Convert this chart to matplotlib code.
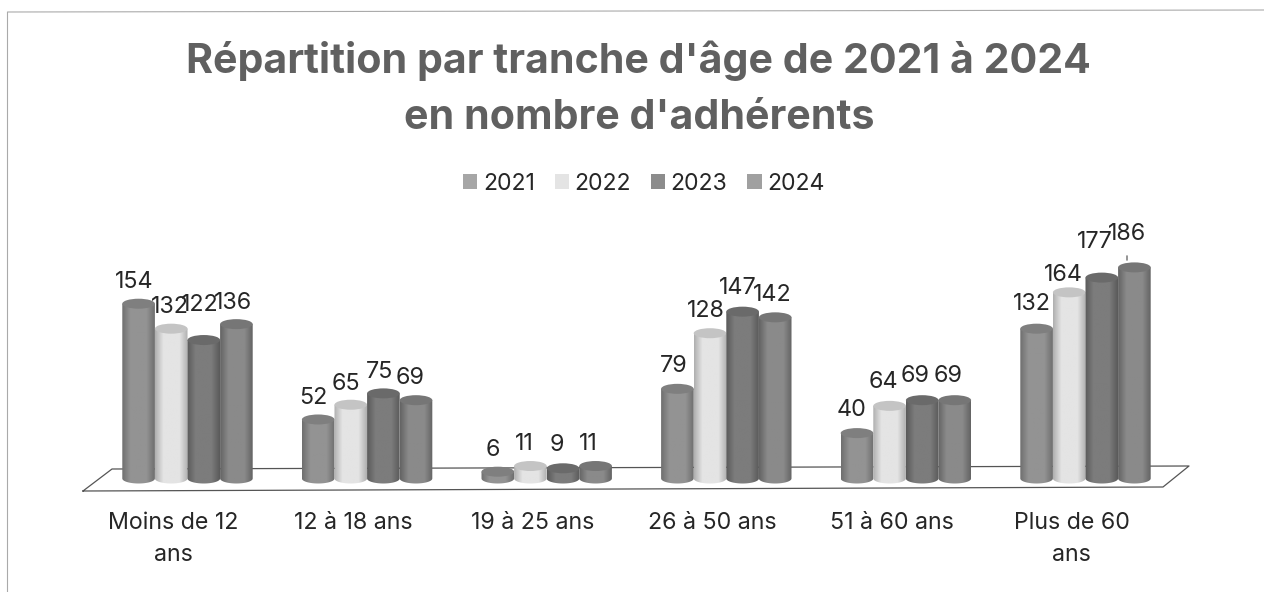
import numpy as np
import matplotlib
matplotlib.use('Agg')
import matplotlib.pyplot as plt
from matplotlib.colors import LinearSegmentedColormap
from matplotlib.patches import Ellipse, Patch, PathPatch
from matplotlib.path import Path
from matplotlib.transforms import IdentityTransform

plt.rcParams['font.family'] = ['Inter', 'DejaVu Sans']

categories = ['Moins de 12\nans', '12 à 18 ans', '19 à 25 ans', '26 à 50 ans', '51 à 60 ans', 'Plus de 60\nans']
years = ['2021', '2022', '2023', '2024']
v2021 = [154, 52, 6, 79, 40, 132]
v2022 = [132, 65, 11, 128, 64, 164]
v2023 = [122, 75, 9, 147, 69, 177]
v2024 = [136, 69, 11, 142, 69, 186]
series = [v2021, v2022, v2023, v2024]

# grey levels of the scan: edge, middle, top cap
shades = [('#6f6f6f', '#939393', '#7f7f7f'),
          ('#b0b0b0', '#e4e4e4', '#c4c4c4'),
          ('#5a5a5a', '#7c7c7c', '#6a6a6a'),
          ('#646464', '#8a8a8a', '#767676')]
legend_colors = ['#a6a6a6', '#e4e4e4', '#8c8c8c', '#a0a0a0']
text_color = '#262626'

# label shift in pixels from the top of each bar
label_dx = [[-4, -1.5, -4.5, -3], [-4.5, -5, -4, -6], [-5, -6, -6, -7],
            [-4, -4, -5, -3], [-5, -6, -7, -7], [-5, -6, -7, -7]]
label_dy = [[21.7, 21.7, 35, 21.1], [21.5, 21.2, 21.4, 22.2], [21.7, 22, 23.3, 22],
            [22.8, 22.2, 23.7, 22.3], [23.1, 23.9, 24.2, 24.2], [24.7, 17.4, 35.6, 33.4]]

W, H = 1264, 592
px_per_cat = 179.6
px_per_val = 1.135
left = 173.5 - px_per_cat / 2
base = 478.5
fig = plt.figure(figsize=(W / 100, H / 100), dpi=100, facecolor='white')
ax = fig.add_axes([left / W, (H - base - 34) / H, 6 * px_per_cat / W, (34 + 220 * px_per_val) / H])


def py(y):
    return H - y


bar_w = 32.6 / px_per_cat
cap_h = 10.0 / px_per_val
group_shift = 14.0 / px_per_cat
theta = np.linspace(0, np.pi, 40)

for i in range(len(categories)):
    for j in range(len(years)):
        v = series[j][i]
        xc = i + group_shift + (j - 1.5) * bar_w
        edge, mid, cap = shades[j]
        cmap = LinearSegmentedColormap.from_list('cyl', [edge, mid, mid, mid, edge])
        grad = np.linspace(0, 1, 64).reshape(1, -1)
        im = ax.imshow(grad, cmap=cmap, extent=(xc - bar_w / 2, xc + bar_w / 2, -cap_h, v),
                       aspect='auto', zorder=3 + j * 0.1, interpolation='bilinear')
        xs = np.concatenate([xc - bar_w / 2 * np.cos(theta), [xc + bar_w / 2, xc - bar_w / 2]])
        ys = np.concatenate([-cap_h / 2 * np.sin(theta), [v, v]])
        body = Path(np.column_stack([xs, ys]))
        im.set_clip_path(PathPatch(body, transform=ax.transData))
        top = Ellipse((xc, v), bar_w, cap_h, facecolor=cap, edgecolor='none', zorder=3.05 + j * 0.1)
        ax.add_patch(top)
        ax.annotate(str(v), (xc, v), xytext=(label_dx[i][j], label_dy[i][j]), textcoords='offset pixels',
                    ha='center', va='center', fontsize=16.8, color=text_color, zorder=2)

ax.set_xlim(-0.5, 5.5)
ax.set_ylim(-34 / px_per_val, 220)

for s in ax.spines.values():
    s.set_visible(False)
ax.patch.set_visible(False)
ax.set_yticks([])
ax.set_xticks(range(len(categories)))
ax.set_xticklabels(categories, fontsize=16.7, color=text_color, linespacing=1.6)
ax.tick_params(axis='x', length=0, pad=-0.2)

# floor of the 3D chart, in pixels
idt = IdentityTransform()
ax.plot([83, 112, 1189, 1163, 83], [py(491), py(469), py(466), py(487), py(491)], color='#555555',
        lw=0.9, transform=idt, clip_on=False, zorder=1)
ax.annotate('', xy=(1127, py(263)), xytext=(1127, py(253)), xycoords=idt, textcoords=idt,
            arrowprops=dict(arrowstyle='-', color='#444444', lw=0.8), zorder=5)

# scan border
fig.add_artist(plt.Line2D([7.5 / W, 7.5 / W, 1], [0, py(12) / H, py(10) / H], color='#aaaaaa', lw=0.8))

fig.text(638.5 / W, py(73) / H, "Répartition par tranche d'âge de 2021 à 2024", ha='center', va='baseline',
         fontsize=29.6, fontweight='bold', color='#606060')
fig.text(639 / W, py(129) / H, "en nombre d'adhérents", ha='center', va='baseline',
         fontsize=29.6, fontweight='bold', color='#606060')

handles = [Patch(facecolor=c, edgecolor='none') for c in legend_colors]
fig.legend(handles, years, loc='center', bbox_to_anchor=(644 / W, py(184) / H), ncol=4, frameon=False,
           fontsize=16.6, handlelength=0.61, handleheight=0.61, handletextpad=0.24, columnspacing=0.87,
           labelcolor=text_color)

fig.savefig('out.png', dpi=100)
